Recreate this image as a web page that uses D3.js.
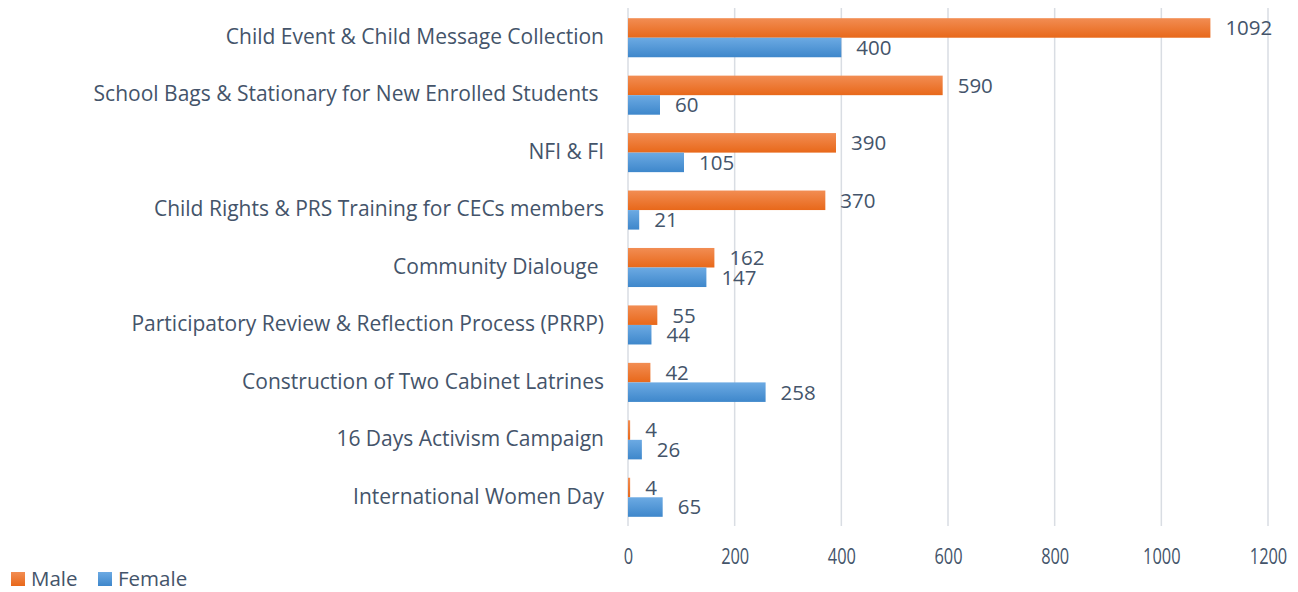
<!DOCTYPE html>
<html><head><meta charset="utf-8">
<script src="https://cdn.jsdelivr.net/npm/d3@7"></script>
<style>body{margin:0;background:#fff}svg{display:block}</style>
</head><body>
<svg id="c" width="1298" height="592"></svg>
<script>
const categories = ["Child Event & Child Message Collection","School Bags & Stationary for New Enrolled Students ","NFI & FI","Child Rights & PRS Training for CECs members","Community Dialouge ","Participatory Review & Reflection Process (PRRP)","Construction of Two Cabinet Latrines","16 Days Activism Campaign","International Women Day"];
const male = [1092,590,390,370,162,55,42,4,4];
const female = [400,60,105,21,147,44,258,26,65];
const seriesNames = ["Male","Female"];
const xTicks = [0,200,400,600,800,1000,1200];

const svg = d3.select("#c");
const textColor = "#44546A";
const font = "'Open Sans', sans-serif";
const x = d3.scaleLinear().domain([0,1200]).range([628,1268]);
const y = d3.scaleBand().domain(categories).range([9,526]).paddingInner(0.32).paddingOuter(0.16);
const sub = d3.scaleBand().domain(seriesNames).range([0,y.bandwidth()]);

const defs = svg.append("defs");
function grad(id, top, bot){
  const g = defs.append("linearGradient").attr("id",id).attr("x1",0).attr("y1",0).attr("x2",0).attr("y2",1);
  g.append("stop").attr("offset","0%").attr("stop-color",top);
  g.append("stop").attr("offset","100%").attr("stop-color",bot);
}
grad("gM","#F28D53","#E8681A");
grad("gF","#6CAAE3","#3E87CB");
const fills = {Male:"url(#gM)",Female:"url(#gF)"};

// gridlines
svg.append("g").selectAll("line").data(xTicks).join("line")
  .attr("x1",d=>x(d)).attr("x2",d=>x(d)).attr("y1",8).attr("y2",526)
  .attr("stroke","#D9DDE3").attr("stroke-width",1.5);

// x axis tick labels
const ax = svg.append("g").attr("transform","translate(0,557)")
  .call(d3.axisBottom(x).tickValues(xTicks).tickSize(0).tickPadding(0).tickFormat(d3.format("d")));
ax.select(".domain").remove();
ax.selectAll("text").attr("fill",textColor).attr("font-family",font).attr("font-size",21)
  .attr("dy","0.35em").attr("y",0)
  .attr("transform","scale(0.78,1)");

// category labels
const ay = svg.append("g").attr("transform","translate(604,0)")
  .call(d3.axisLeft(y).tickSize(0).tickPadding(0));
ay.select(".domain").remove();
ay.selectAll("text").attr("fill",textColor).attr("font-family",font).attr("font-size",21)
  .style("white-space","pre").attr("dy","0.3em");

const rows = categories.map((c,i)=>({c, vals:[{s:"Male",v:male[i]},{s:"Female",v:female[i]}]}));
const g = svg.append("g").selectAll("g").data(rows).join("g")
  .attr("transform",d=>`translate(0,${y(d.c)})`);
g.selectAll("rect").data(d=>d.vals).join("rect")
  .attr("x",x(0)).attr("y",d=>sub(d.s)).attr("width",d=>x(d.v)-x(0)).attr("height",sub.bandwidth())
  .attr("fill",d=>fills[d.s]);
g.selectAll("text").data(d=>d.vals).join("text")
  .attr("x",d=>x(d.v)+15).attr("y",d=>sub(d.s)+sub.bandwidth()/2).attr("dy","0.36em")
  .attr("fill",textColor).attr("font-family",font).attr("font-size",20.5)
  .text(d=>d.v);

// legend
const leg = svg.append("g").selectAll("g").data(seriesNames).join("g")
  .attr("transform",(d,i)=>`translate(${i===0?11:98},572)`);
leg.append("rect").attr("width",14).attr("height",14).attr("fill",d=>fills[d]);
leg.append("text").attr("x",20).attr("y",7).attr("dy","0.36em").attr("fill",textColor)
  .attr("font-family",font).attr("font-size",20.5).text(d=>d);
</script>
</body></html>
